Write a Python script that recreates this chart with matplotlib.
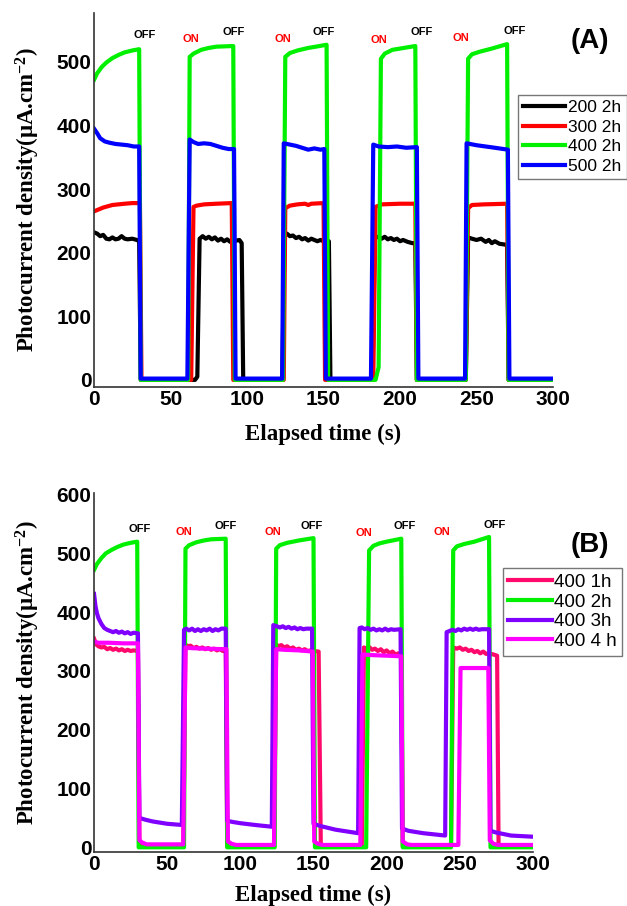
import matplotlib
matplotlib.use("Agg")
import matplotlib.pyplot as plt

# ---- panel A data (time s, photocurrent uA/cm2) ----
t_200 = [0, 2, 4, 6, 8, 10, 12, 14, 16, 18, 20, 22, 25, 28, 29.5, 30.5, 66, 67.5, 69, 71, 73, 75, 77, 79, 81, 83, 85, 87, 89, 91, 93, 95, 96.5, 97.5,
         123, 124.5, 126, 128, 130, 132, 134, 136, 138, 140, 142, 144, 146, 148, 150, 152, 153.5, 154.5,
         182, 183.5, 186, 188, 190, 192, 194, 196, 198, 200, 202, 205, 208, 210, 211,
         243, 244.5, 247, 250, 253, 256, 258, 260, 262, 265, 268, 270, 271, 300]
j_200 = [232, 230, 226, 228, 222, 221, 224, 221, 222, 226, 222, 221, 222, 220, 218, 0, 0, 5, 222, 226, 222, 225, 221, 224, 219, 222, 218, 221, 217, 220, 219, 220, 215, 0,
         0, 228, 230, 226, 227, 223, 225, 221, 223, 219, 222, 220, 218, 220, 218, 219, 218, 0,
         0, 226, 224, 222, 225, 221, 223, 220, 222, 218, 220, 217, 215, 215, 0,
         0, 224, 222, 220, 222, 217, 220, 215, 218, 214, 213, 212, 0, 0]

t_300 = [0, 3, 6, 9, 12, 16, 20, 25, 30, 31, 63.5, 65, 67, 72, 80, 90, 91,
         124, 125, 128, 133, 138, 140, 142, 150, 151, 182.5, 184, 188, 200, 210, 211,
         243, 244.5, 247, 255, 270, 271, 300]
j_300 = [265, 268, 271, 273, 275, 276, 277, 278, 278, 0, 0, 272, 274, 276, 277, 278, 0,
         0, 270, 274, 276, 277, 275, 277, 278, 0, 0, 272, 276, 277, 277, 0,
         0, 270, 275, 276, 277, 0, 0]

t_400 = [0, 2, 5, 8, 12, 16, 20, 25, 29.5, 30.5, 61.5, 62.5, 65, 70, 75, 80, 91, 92,
         123.5, 125, 128, 133, 140, 145, 152, 153, 184, 186, 187.5, 190, 195, 200, 210, 211,
         243, 244.5, 247, 252, 260, 270, 271, 300]
j_400 = [472, 482, 492, 499, 506, 511, 515, 518, 520, 0, 0, 508, 513, 519, 522, 524, 525, 0,
         0, 508, 514, 518, 522, 524, 527, 0, 0, 20, 505, 513, 519, 521, 525, 0,
         0, 505, 512, 516, 521, 528, 0, 0]

t_500 = [0, 2, 4, 7, 10, 14, 18, 22, 26, 29.5, 30.5, 61, 62.5, 65, 68, 72, 76, 80, 84, 88, 91.5, 92.5,
         123, 124, 128, 132, 136, 140, 144, 148, 150.5, 151.5, 181, 182.5, 186, 192, 198, 204, 211, 212,
         242.5, 243.5, 250, 256, 262, 270.5, 271.5, 300]
j_500 = [395, 388, 380, 375, 373, 371, 370, 369, 367, 367, 2, 2, 378, 374, 371, 372, 371, 368, 365, 363, 363, 2,
         2, 372, 370, 368, 365, 362, 364, 362, 363, 2, 2, 370, 367, 366, 367, 365, 366, 2,
         2, 372, 369, 367, 365, 362, 2, 2]

# ---- panel B data ----
t_1h = [0, 1.5, 3, 5, 7, 9, 11, 13, 15, 17, 19, 21, 23, 25, 27, 30, 31, 61,
        62.5, 64, 66, 68, 70, 72, 74, 76, 78, 80, 82, 84, 86, 88, 90, 91, 123,
        124.5, 126, 128, 130, 132, 134, 136, 138, 140, 142, 144, 146, 148, 150, 153.5, 155, 183,
        184.5, 186, 188, 190, 192, 194, 196, 198, 200, 202, 204, 206, 208, 210, 211, 244,
        245.5, 248, 250, 252, 254, 256, 258, 260, 262, 264, 266, 268, 270, 273, 275.5, 276.5, 300]
j_1h = [355, 345, 342, 340, 341, 337, 339, 336, 338, 335, 337, 334, 336, 334, 335, 334, 3, 3,
        345, 342, 343, 339, 341, 338, 340, 337, 339, 336, 338, 335, 337, 334, 335, 2, 2,
        345, 342, 344, 340, 342, 338, 340, 336, 338, 335, 337, 334, 335, 334, 333, 2, 2,
        340, 338, 341, 336, 338, 334, 337, 332, 335, 330, 333, 328, 330, 327, 2, 2,
        340, 338, 340, 336, 338, 334, 336, 332, 334, 330, 333, 329, 330, 328, 326, 2, 2]

t_2h = [0, 2, 5, 8, 12, 16, 20, 25, 29.5, 30.5, 61.5, 62.5, 65, 70, 75, 80, 90, 91,
        123.5, 124.5, 127, 132, 140, 150, 151, 186, 188, 191, 195, 200, 210, 211,
        244, 245.5, 248, 253, 260, 270, 271, 300]
j_2h = [472, 482, 492, 500, 506, 511, 515, 518, 520, 0, 0, 508, 514, 519, 522, 524, 525, 0,
        0, 508, 514, 518, 522, 526, 0, 0, 505, 513, 517, 520, 525, 0,
        0, 505, 512, 516, 520, 528, 0, 0]

t_3h = [0, 1, 2, 3, 5, 7, 9, 11, 13, 15, 17, 19, 21, 23, 25, 27, 30, 31, 35, 40, 45, 50, 55, 60,
        61.5, 63, 65, 67, 69, 71, 73, 75, 77, 79, 81, 83, 85, 87, 90, 91, 95, 100, 110, 121.5,
        122.5, 125, 127, 129, 131, 133, 135, 137, 139, 141, 143, 145, 149, 150, 155, 165, 180.5,
        181.5, 183, 185, 187, 189, 191, 193, 195, 197, 199, 201, 203, 205, 209.5, 210.5, 215, 225, 240,
        241, 243, 245, 247, 249, 251, 253, 255, 257, 259, 261, 263, 265, 270, 271, 275, 285, 300]
j_3h = [431, 410, 398, 390, 380, 373, 370, 368, 366, 368, 365, 367, 364, 366, 363, 365, 364, 50, 47, 44, 42, 40, 39, 38,
        370, 372, 369, 372, 368, 371, 368, 371, 369, 372, 368, 371, 369, 372, 372, 45, 43, 41, 38, 35,
        378, 376, 374, 376, 373, 375, 372, 374, 371, 373, 371, 372, 372, 40, 36, 30, 24,
        373, 374, 371, 373, 370, 372, 369, 371, 369, 372, 369, 371, 370, 371, 32, 28, 24, 20,
        366, 368, 370, 368, 371, 369, 372, 370, 372, 370, 372, 370, 371, 371, 28, 25, 20, 18]

t_4h = [0, 3, 10, 20, 30, 31, 33, 36, 61, 62.5, 65, 75, 90.5, 91.5, 94, 97,
        123, 124.5, 130, 140, 149.5, 150.5, 153, 156, 182, 183.5, 190, 200, 210, 211, 214, 217,
        249, 250.5, 260, 269.5, 270.5, 273, 276, 300]
j_4h = [350, 348, 348, 347, 347, 12, 8, 5, 5, 340, 339, 338, 337, 10, 6, 4,
        4, 337, 336, 335, 333, 10, 6, 4, 4, 328, 327, 326, 325, 10, 5, 4,
        4, 305, 305, 305, 12, 6, 4, 4]

onoff_a_x = [33, 63, 91.5, 123.5, 150, 186, 214, 240, 275]
onoff_a_y = [542, 536, 547, 536, 547, 534, 547, 537, 549]
onoff_b_x = [31.4, 61.5, 90, 122, 149, 184.5, 212.5, 238, 274]
onoff_b_y = [542, 537, 547, 537, 547, 535, 547, 537, 548]
onoff_text = ["OFF", "ON", "OFF", "ON", "OFF", "ON", "OFF", "ON", "OFF"]

plt.rcParams['mathtext.default'] = 'regular'

fig = plt.figure(figsize=(6.27, 9.06), dpi=100)
axA = fig.add_axes([0.15, 0.573, 0.732, 0.4127])
axB = fig.add_axes([0.15, 0.0596, 0.700, 0.3964])

lw = 3
green = "#00f000"
axA.plot(t_200, j_200, color="black", lw=lw, label="200 2h")
axA.plot(t_300, j_300, color="#ff0000", lw=lw, label="300 2h")
axA.plot(t_400, j_400, color=green, lw=lw, label="400 2h")
axA.plot(t_500, j_500, color="#0000ff", lw=lw, label="500 2h")

axB.plot(t_1h, j_1h, color="#ff0a6c", lw=lw, label="400 1h")
axB.plot(t_2h, j_2h, color=green, lw=lw, label="400 2h")
axB.plot(t_3h, j_3h, color="#7f00ff", lw=lw, label="400 3h")
axB.plot(t_4h, j_4h, color="#ff00ff", lw=lw, label="400 4 h")

for ax, ox, oy, ylim, yt, xpad in [(axA, onoff_a_x, onoff_a_y, (-11, 577), range(0, 600, 100), 11),
                                   (axB, onoff_b_x, onoff_b_y, (-8, 603), range(0, 700, 100), 8)]:
    ax.set_xlim(0, 300)
    ax.set_ylim(*ylim)
    ax.set_xticks(range(0, 350, 50))
    ax.set_yticks(list(yt))
    for s in ["top", "right"]:
        ax.spines[s].set_visible(False)
    for s in ["left", "bottom"]:
        ax.spines[s].set_color("#333333")
        ax.spines[s].set_linewidth(1.2)
    ax.tick_params(length=0, pad=2, labelsize=15)
    for lab in ax.get_xticklabels() + ax.get_yticklabels():
        lab.set_fontweight("bold")
        lab.set_family("Liberation Sans")
    ax.set_xlabel("Elapsed time (s)", family="Liberation Serif", fontweight="bold", fontsize=16.5, labelpad=xpad)
    ax.set_ylabel("Photocurrent density(μA.cm$^{-2}$)", family="Liberation Serif", fontweight="bold", fontsize=16.5, labelpad=10)
    for x, y, s in zip(ox, oy, onoff_text):
        ax.text(x, y, s, color="black" if s == "OFF" else "#ff0000", fontsize=8, fontweight="bold",
                family="Liberation Sans", ha="center", va="center")

axA.legend(loc="upper left", bbox_to_anchor=(0.826, 0.895), bbox_transform=fig.transFigure,
           frameon=True, fancybox=False, edgecolor="#555555", labelspacing=0.25,
           handlelength=2.4, handletextpad=0.2, borderpad=0.3, borderaxespad=0,
           prop={"family": "Liberation Sans", "size": 12.5})
axB.legend(loc="upper left", bbox_to_anchor=(0.802, 0.373), bbox_transform=fig.transFigure,
           frameon=True, fancybox=False, edgecolor="#555555", labelspacing=0.14,
           handlelength=2.3, handletextpad=0.12, borderpad=0.3, borderaxespad=0,
           prop={"family": "Liberation Sans", "size": 13.5})

fig.text(0.94, 0.955, "(A)", fontsize=20, fontweight="bold", family="Liberation Sans", ha="center", va="center")
fig.text(0.94, 0.399, "(B)", fontsize=20, fontweight="bold", family="Liberation Sans", ha="center", va="center")

fig.savefig("out.png", dpi=100)
